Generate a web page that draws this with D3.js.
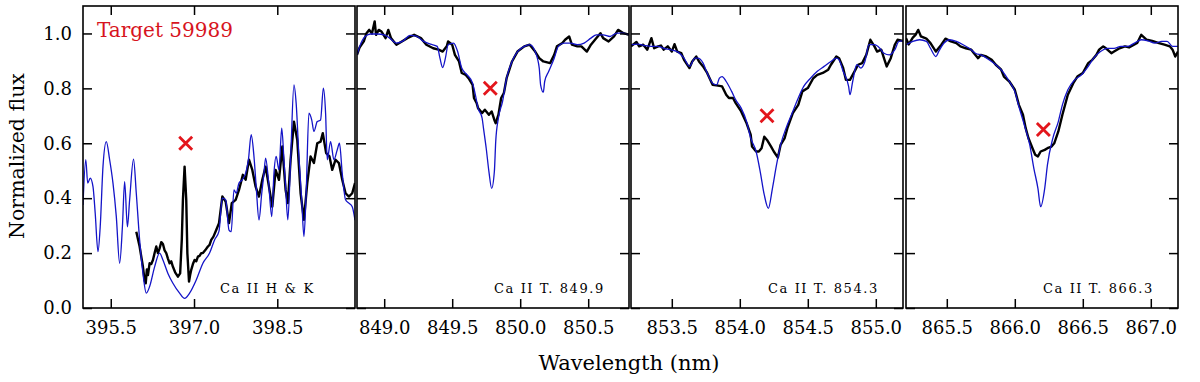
<!DOCTYPE html>
<html>
<head>
<meta charset="utf-8">
<script src="https://cdn.jsdelivr.net/npm/d3@7"></script>
<style>
  html, body { margin: 0; padding: 0; background: #ffffff; }
  svg { display: block; }
</style>
</head>
<body>
<svg id="chart" width="1200" height="382"></svg>
<script>
// ---------------- DATA ----------------
const panelLabels = ["Ca II H & K", "Ca II T. 849.9", "Ca II T. 854.3", "Ca II T. 866.3"];
const panelDomains = [[395.0, 399.9], [848.8, 850.8], [853.2, 855.2], [865.2, 867.2]];
const xTicksHK = [395.5, 397.0, 398.5];
const xTicks8498 = [849.0, 849.5, 850.0, 850.5];
const xTicks8542 = [853.5, 854.0, 854.5, 855.0];
const xTicks8662 = [865.5, 866.0, 866.5, 867.0];
const yTicks = [0.0, 0.2, 0.4, 0.6, 0.8, 1.0];
const yDomain = [0, 1.1];

const markerWave = [396.85, 849.78, 854.20, 866.21];
const markerFlux = [0.60, 0.80, 0.70, 0.65];

// Panel 1: Ca II H & K
const hkModWave = [395.00,395.05,395.085,395.13,395.18,395.22,395.27,395.31,395.36,395.42,395.48,395.54,395.60,395.66,395.71,395.75,395.80,395.84,395.91,395.96,396.02,396.08,396.14,396.20,396.29,396.38,396.44,396.53,396.62,396.74,396.83,396.92,397.04,397.16,397.28,397.37,397.45,397.51,397.57,397.63,397.67,397.72,397.76,397.81,397.87,397.93,397.98,398.03,398.08,398.12,398.17,398.22,398.26,398.29,398.34,398.40,398.44,398.48,398.53,398.58,398.62,398.65,398.69,398.74,398.80,398.84,398.89,398.94,398.98,399.02,399.07,399.12,399.16,399.22,399.28,399.33,399.37,399.40,399.46,399.52,399.58,399.62,399.67,399.73,399.79,399.85,399.90];
const hkModFlux = [0.375,0.54,0.455,0.473,0.442,0.345,0.205,0.296,0.515,0.606,0.54,0.455,0.333,0.163,0.296,0.46,0.296,0.394,0.542,0.418,0.248,0.126,0.054,0.078,0.15,0.20,0.175,0.126,0.09,0.054,0.035,0.054,0.102,0.163,0.20,0.248,0.28,0.40,0.394,0.284,0.278,0.43,0.418,0.455,0.467,0.491,0.54,0.631,0.552,0.442,0.321,0.418,0.491,0.546,0.467,0.333,0.491,0.552,0.503,0.655,0.54,0.442,0.321,0.54,0.813,0.746,0.552,0.394,0.26,0.418,0.71,0.685,0.643,0.679,0.685,0.801,0.71,0.54,0.606,0.54,0.576,0.60,0.491,0.394,0.382,0.369,0.32];
const hkObsWave = [395.96,396.02,396.08,396.11,396.13,396.15,396.17,396.20,396.23,396.26,396.29,396.32,396.35,396.38,396.41,396.44,396.47,396.50,396.53,396.56,396.59,396.62,396.66,396.71,396.75,396.78,396.80,396.83,396.86,396.88,396.91,396.93,396.95,396.98,397.01,397.04,397.07,397.10,397.13,397.16,397.20,397.25,397.28,397.31,397.35,397.40,397.45,397.51,397.57,397.63,397.68,397.75,397.81,397.88,397.93,397.99,398.05,398.11,398.17,398.23,398.29,398.35,398.41,398.47,398.53,398.59,398.65,398.69,398.74,398.80,398.86,398.92,398.98,399.04,399.10,399.16,399.22,399.28,399.32,399.38,399.44,399.49,399.55,399.61,399.67,399.73,399.79,399.85,399.90];
const hkObsFlux = [0.278,0.224,0.15,0.10,0.09,0.14,0.12,0.163,0.16,0.175,0.20,0.224,0.20,0.217,0.24,0.233,0.21,0.20,0.18,0.163,0.17,0.15,0.13,0.114,0.126,0.25,0.394,0.515,0.394,0.20,0.096,0.12,0.139,0.16,0.175,0.17,0.187,0.19,0.20,0.20,0.21,0.224,0.23,0.248,0.26,0.284,0.309,0.406,0.388,0.309,0.382,0.394,0.43,0.485,0.467,0.54,0.503,0.442,0.406,0.467,0.515,0.442,0.369,0.503,0.467,0.588,0.43,0.382,0.54,0.679,0.612,0.418,0.321,0.455,0.552,0.528,0.60,0.606,0.637,0.564,0.552,0.503,0.54,0.528,0.467,0.418,0.406,0.418,0.455];

// Panel 2: Ca II triplet 849.8
const t1ModWave = [848.80,848.82,848.86,848.90,848.95,849.00,849.04,849.09,849.14,849.19,849.24,849.29,849.34,849.39,849.41,849.43,849.45,849.47,849.51,849.54,849.57,849.61,849.65,849.67,849.69,849.72,849.73,849.75,849.77,849.79,849.81,849.82,849.84,849.87,849.90,849.94,849.98,850.03,850.07,850.11,850.14,850.15,850.17,850.18,850.21,850.25,850.28,850.32,850.37,850.42,850.47,850.52,850.56,850.61,850.66,850.71,850.76,850.80];
const t1ModFlux = [0.922,0.953,0.989,0.998,0.998,0.995,0.983,0.965,0.973,0.993,0.989,0.971,0.961,0.953,0.910,0.876,0.910,0.959,0.965,0.934,0.874,0.849,0.819,0.777,0.728,0.692,0.655,0.582,0.497,0.436,0.497,0.606,0.692,0.752,0.837,0.898,0.934,0.953,0.959,0.934,0.874,0.813,0.786,0.825,0.862,0.910,0.953,0.965,0.965,0.959,0.965,0.983,0.995,0.995,0.989,1.001,1.001,0.995];
const t1ObsWave = [848.80,848.82,848.85,848.87,848.89,848.91,848.93,848.94,848.96,848.98,849.01,849.03,849.05,849.07,849.09,849.13,849.17,849.22,849.27,849.31,849.36,849.40,849.43,849.46,849.47,849.50,849.52,849.55,849.57,849.60,849.62,849.65,849.66,849.68,849.69,849.72,849.74,849.77,849.79,849.81,849.82,849.84,849.86,849.88,849.90,849.94,849.98,850.03,850.07,850.11,850.14,850.17,850.22,850.25,850.27,850.31,850.33,850.36,850.38,850.42,850.45,850.49,850.52,850.55,850.59,850.61,850.65,850.69,850.72,850.76,850.80];
const t1ObsFlux = [0.922,0.95,0.971,1.001,1.013,1.0,1.044,0.995,1.013,1.007,0.983,1.013,0.983,0.971,0.959,0.971,0.983,0.995,0.983,0.959,0.946,0.941,0.934,0.953,0.971,0.959,0.922,0.898,0.856,0.849,0.837,0.813,0.765,0.746,0.728,0.710,0.722,0.704,0.716,0.685,0.673,0.704,0.765,0.783,0.837,0.898,0.934,0.953,0.959,0.934,0.91,0.898,0.892,0.922,0.953,0.965,0.977,0.989,0.959,0.953,0.953,0.934,0.959,0.977,1.001,0.983,0.971,0.989,1.013,1.001,0.995];

// Panel 3: Ca II triplet 854.2
const t2ModWave = [853.20,853.25,853.30,853.35,853.40,853.44,853.49,853.54,853.59,853.63,853.67,853.69,853.73,853.76,853.80,853.83,853.85,853.87,853.90,853.94,853.97,854.01,854.05,854.08,854.12,854.15,854.18,854.21,854.24,854.27,854.30,854.34,854.38,854.43,854.47,854.52,854.57,854.62,854.67,854.71,854.73,854.76,854.80,854.81,854.83,854.86,854.89,854.92,854.95,854.99,855.03,855.06,855.10,855.14,855.17,855.20];
const t2ModFlux = [0.959,0.961,0.956,0.953,0.953,0.946,0.941,0.934,0.910,0.88,0.910,0.91,0.892,0.856,0.819,0.813,0.837,0.843,0.825,0.789,0.758,0.728,0.679,0.619,0.570,0.497,0.412,0.363,0.436,0.521,0.594,0.655,0.704,0.765,0.807,0.837,0.862,0.880,0.898,0.910,0.904,0.862,0.807,0.777,0.825,0.886,0.874,0.898,0.959,0.959,0.946,0.928,0.922,0.941,0.971,0.973];
const t2ObsWave = [853.20,853.24,853.26,853.29,853.32,853.35,853.37,853.40,853.42,853.44,853.47,853.50,853.52,853.54,853.57,853.59,853.63,853.65,853.68,853.70,853.73,853.76,853.80,853.84,853.87,853.90,853.92,853.95,853.97,854.01,854.05,854.08,854.09,854.12,854.14,854.16,854.18,854.20,854.23,854.25,854.28,854.30,854.33,854.35,854.39,854.43,854.46,854.50,854.54,854.57,854.61,854.65,854.67,854.71,854.73,854.76,854.78,854.81,854.83,854.87,854.90,854.93,854.96,854.99,855.01,855.04,855.06,855.08,855.11,855.14,855.16,855.20];
const t2ObsFlux = [0.953,0.969,0.953,0.959,0.941,0.983,0.946,0.953,0.956,0.941,0.953,0.934,0.961,0.934,0.928,0.904,0.874,0.898,0.916,0.898,0.880,0.856,0.813,0.81,0.807,0.777,0.765,0.765,0.746,0.716,0.673,0.631,0.588,0.570,0.57,0.582,0.624,0.612,0.588,0.570,0.548,0.594,0.619,0.655,0.710,0.740,0.789,0.801,0.837,0.849,0.856,0.868,0.886,0.916,0.91,0.874,0.831,0.831,0.849,0.886,0.892,0.922,0.977,0.953,0.934,0.941,0.910,0.880,0.910,0.959,0.977,0.973];

// Panel 4: Ca II triplet 866.2
const t3ModWave = [865.20,865.25,865.30,865.35,865.38,865.42,865.44,865.48,865.52,865.57,865.62,865.67,865.71,865.76,865.81,865.86,865.91,865.96,866.00,866.03,866.07,866.11,866.14,866.17,866.19,866.22,866.24,866.28,866.32,866.35,866.39,866.44,866.49,866.54,866.58,866.63,866.68,866.73,866.78,866.83,866.88,866.93,866.98,867.03,867.08,867.12,867.16,867.20];
const t3ModFlux = [0.959,0.971,0.977,0.971,0.946,0.916,0.934,0.965,0.977,0.971,0.959,0.944,0.928,0.92,0.904,0.886,0.862,0.825,0.789,0.734,0.667,0.594,0.509,0.436,0.369,0.436,0.521,0.619,0.679,0.74,0.795,0.831,0.849,0.880,0.910,0.934,0.946,0.946,0.953,0.953,0.965,0.977,0.973,0.965,0.971,0.971,0.953,0.953];
const t3ObsWave = [865.20,865.22,865.25,865.27,865.29,865.31,865.35,865.38,865.42,865.46,865.49,865.53,865.57,865.60,865.64,865.68,865.70,865.73,865.75,865.79,865.83,865.86,865.90,865.92,865.96,866.00,866.03,866.06,866.08,866.10,866.13,866.15,866.17,866.19,866.22,866.24,866.27,866.29,866.32,866.35,866.39,866.43,866.46,866.50,866.54,866.57,866.60,866.62,866.65,866.67,866.71,866.73,866.77,866.81,866.84,866.90,866.93,866.97,867.01,867.06,867.10,867.14,867.16,867.18,867.20];
const t3ObsFlux = [0.983,0.96,0.985,0.995,1.013,0.989,0.981,0.965,0.934,0.959,0.981,0.971,0.965,0.953,0.946,0.941,0.928,0.91,0.922,0.916,0.904,0.886,0.868,0.843,0.825,0.795,0.740,0.704,0.655,0.619,0.582,0.558,0.552,0.570,0.576,0.582,0.588,0.60,0.643,0.704,0.777,0.819,0.843,0.856,0.892,0.904,0.922,0.941,0.953,0.946,0.928,0.934,0.946,0.953,0.949,0.965,0.995,0.977,0.973,0.965,0.959,0.953,0.941,0.916,0.934];

// ---------------- LAYOUT ----------------
const svg = d3.select("#chart");
const FONT = "'DejaVu Serif', 'Liberation Serif', serif";
const plotTop = 6, plotBottom = 308, panelW = 272;
const panelLefts = [83, 357, 631, 906];
const tickLen = 9;
const obsColor = "#000000", modColor = "#1414c8", markColor = "#e3161c";

const yScale = d3.scaleLinear().domain(yDomain).range([plotBottom, plotTop]);

const panels = [
  { wave: hkObsWave, flux: hkObsFlux, mwave: hkModWave, mflux: hkModFlux, ticks: xTicksHK },
  { wave: t1ObsWave, flux: t1ObsFlux, mwave: t1ModWave, mflux: t1ModFlux, ticks: xTicks8498 },
  { wave: t2ObsWave, flux: t2ObsFlux, mwave: t2ModWave, mflux: t2ModFlux, ticks: xTicks8542 },
  { wave: t3ObsWave, flux: t3ObsFlux, mwave: t3ModWave, mflux: t3ModFlux, ticks: xTicks8662 }
];

const defs = svg.append("defs");

panels.forEach((p, i) => {
  const left = panelLefts[i];
  const xScale = d3.scaleLinear().domain(panelDomains[i]).range([left, left + panelW]);
  const g = svg.append("g");

  defs.append("clipPath").attr("id", "clip" + i)
    .append("rect").attr("x", left).attr("y", plotTop).attr("width", panelW).attr("height", plotBottom - plotTop);

  const plot = g.append("g").attr("clip-path", "url(#clip" + i + ")");

  const obs = p.wave.map((w, k) => [w, p.flux[k]]);
  const mod = p.mwave.map((w, k) => [w, p.mflux[k]]);

  plot.append("path").datum(obs)
    .attr("fill", "none").attr("stroke", obsColor).attr("stroke-width", 2.4)
    .attr("stroke-linejoin", "round")
    .attr("d", d3.line().x(d => xScale(d[0])).y(d => yScale(d[1])));

  plot.append("path").datum(mod)
    .attr("fill", "none").attr("stroke", modColor).attr("stroke-width", 1.3)
    .attr("stroke-linejoin", "round")
    .attr("d", d3.line().curve(d3.curveMonotoneX).x(d => xScale(d[0])).y(d => yScale(d[1])));

  // X marker
  const mx = xScale(markerWave[i]), my = yScale(markerFlux[i]), s = 6.5;
  g.append("path")
    .attr("d", `M${mx - s},${my - s}L${mx + s},${my + s}M${mx - s},${my + s}L${mx + s},${my - s}`)
    .attr("stroke", markColor).attr("stroke-width", 2.8).attr("fill", "none");

  // axes (inward ticks on all sides)
  const bAxis = g.append("g").attr("transform", `translate(0,${plotBottom})`)
    .call(d3.axisBottom(xScale).tickValues(p.ticks).tickSize(-tickLen).tickPadding(13).tickFormat(d3.format(".1f")));
  const tAxis = g.append("g").attr("transform", `translate(0,${plotTop})`)
    .call(d3.axisTop(xScale).tickValues(p.ticks).tickSize(-tickLen).tickFormat(""));
  const lAxis = g.append("g").attr("transform", `translate(${left},0)`)
    .call(d3.axisLeft(yScale).tickValues(yTicks).tickSize(-tickLen).tickPadding(11)
      .tickFormat(i === 0 ? d3.format(".1f") : ""));
  const rAxis = g.append("g").attr("transform", `translate(${left + panelW},0)`)
    .call(d3.axisRight(yScale).tickValues(yTicks).tickSize(-tickLen).tickFormat(""));

  [bAxis, tAxis, lAxis, rAxis].forEach(a => {
    a.select(".domain").remove();
    a.selectAll(".tick line").attr("stroke", "#000").attr("stroke-width", 1.5);
    a.selectAll(".tick text").attr("font-family", FONT).attr("font-size", 18).attr("fill", "#000");
  });

  // frame
  g.append("rect").attr("x", left).attr("y", plotTop).attr("width", panelW).attr("height", plotBottom - plotTop)
    .attr("fill", "none").attr("stroke", "#000").attr("stroke-width", 1.6);

  // panel label
  g.append("text").attr("x", left + 137).attr("y", 293)
    .attr("font-family", FONT).attr("font-size", 13).attr("letter-spacing", 1.6)
    .attr("fill", "#000").text(panelLabels[i]);
});

// Title inside first panel
svg.append("text").attr("x", 97).attr("y", 37)
  .attr("font-family", FONT).attr("font-size", 20).attr("fill", "#d7141e")
  .text("Target 59989");

// Axis titles
svg.append("text").attr("x", 629).attr("y", 370).attr("text-anchor", "middle")
  .attr("font-family", FONT).attr("font-size", 21).attr("fill", "#000")
  .text("Wavelength (nm)");

svg.append("text").attr("transform", "translate(24,156) rotate(-90)").attr("text-anchor", "middle")
  .attr("font-family", FONT).attr("font-size", 20.5).attr("fill", "#000")
  .text("Normalized flux");
</script>
</body>
</html>
